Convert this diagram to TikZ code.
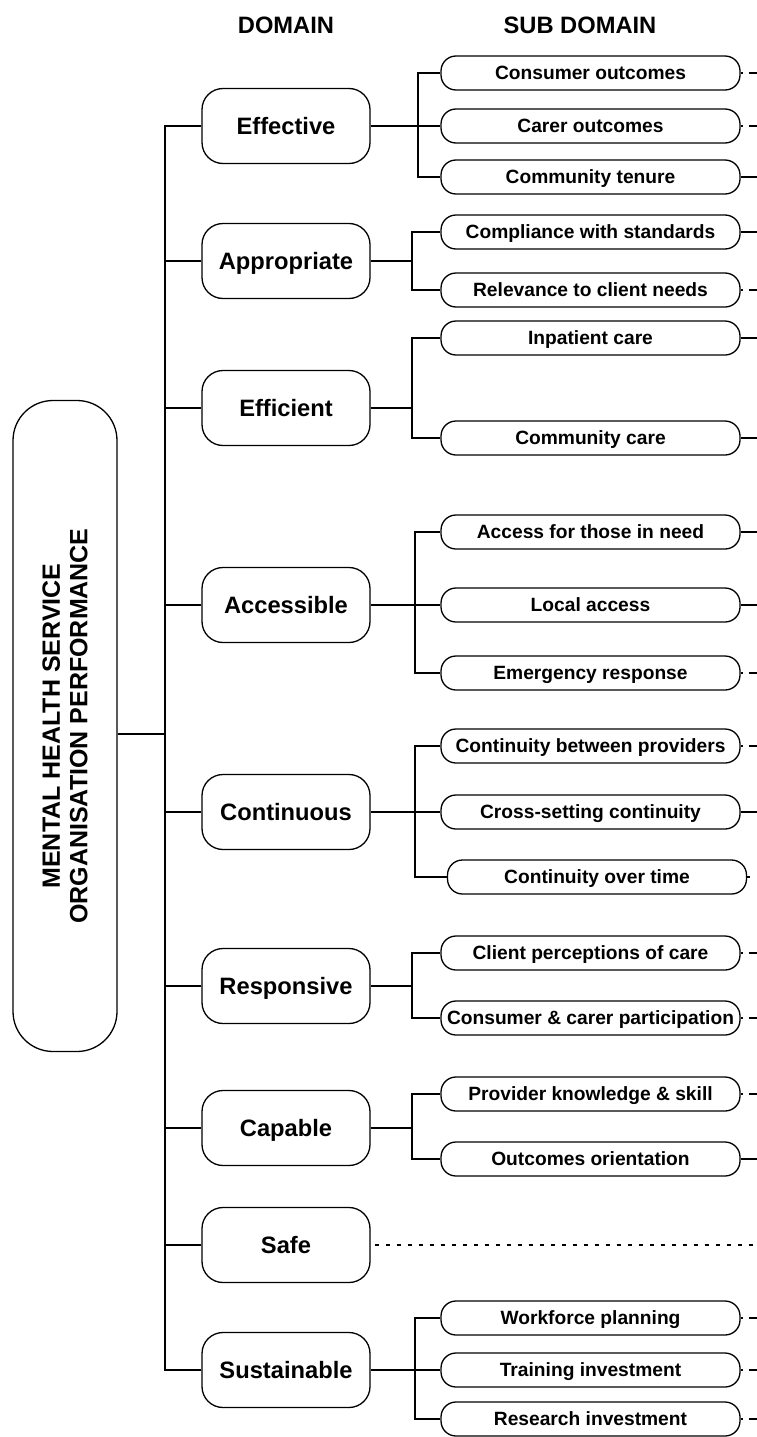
\documentclass[tikz,border=0pt]{standalone}
\usepackage{fontspec}
\setmainfont{Liberation Sans}
\begin{document}
\begin{tikzpicture}[x=1pt,y=-1pt,
  ln/.style={line width=1.3pt},
  dom/.style={draw, line width=1.3pt, rounded corners=21pt, minimum width=168pt, minimum height=75pt, inner sep=0pt, text height=17pt, text depth=0pt, font=\fontsize{23.7}{26}\selectfont\bfseries},
  sub/.style={draw, line width=1.3pt, rounded corners=15pt, minimum width=299pt, minimum height=34pt, inner sep=0pt, text height=13.8pt, text depth=0pt, font=\fontsize{19.2}{22}\selectfont\bfseries},
  hdr/.style={inner sep=0pt, font=\fontsize{23.7}{26}\selectfont\bfseries},
  dashstub/.style={line width=1.3pt, dash pattern=on 2pt off 6pt on 10pt},
  solidstub/.style={line width=1.3pt},
]
\useasboundingbox (0,0) rectangle (756,1437);
\coordinate (rx) at (757,0);
\coordinate (tx) at (165,0);

% headers
\node[hdr] (hd) at (286,25) {DOMAIN};
\node[hdr] (hs) at (580,25) {SUB DOMAIN};

% root
\node[draw, line width=1.3pt, rounded corners=40pt, minimum width=104pt, minimum height=651pt, inner sep=0pt] (root) at (65,726) {};
\node[rotate=90, align=center, inner sep=0pt, font=\fontsize{25}{27.5}\selectfont\bfseries] (roottxt) at (root.center) {MENTAL HEALTH SERVICE\\ORGANISATION PERFORMANCE};

% domains
\node[dom] (eff) at (286,126) {Effective};
\node[dom] (app) at (286,261) {Appropriate};
\node[dom] (effi) at (286,408) {Efficient};
\node[dom] (acc) at (286,605) {Accessible};
\node[dom] (con) at (286,812) {Continuous};
\node[dom] (res) at (286,986) {Responsive};
\node[dom] (cap) at (286,1128) {Capable};
\node[dom] (saf) at (286,1245) {Safe};
\node[dom] (sus) at (286,1370) {Sustainable};

% sub domains
\node[sub] (s11) at (590.5,73) {Consumer outcomes};
\node[sub] (s12) at (590.5,126) {Carer outcomes};
\node[sub] (s13) at (590.5,177) {Community tenure};
\node[sub] (s21) at (590.5,232) {Compliance with standards};
\node[sub] (s22) at (590.5,290) {Relevance to client needs};
\node[sub] (s31) at (590.5,338) {Inpatient care};
\node[sub] (s32) at (590.5,438) {Community care};
\node[sub] (s41) at (590.5,532) {Access for those in need};
\node[sub] (s42) at (590.5,605) {Local access};
\node[sub] (s43) at (590.5,673) {Emergency response};
\node[sub] (s51) at (590.5,746) {Continuity between providers};
\node[sub] (s52) at (590.5,812) {Cross-setting continuity};
\node[sub] (s53) at (597,877) {Continuity over time};
\node[sub] (s61) at (590.5,953) {Client perceptions of care};
\node[sub] (s62) at (590.5,1018) {Consumer \& carer participation};
\node[sub] (s71) at (590.5,1094) {Provider knowledge \& skill};
\node[sub] (s72) at (590.5,1159) {Outcomes orientation};
\node[sub] (s81) at (590.5,1318) {Workforce planning};
\node[sub] (s82) at (590.5,1370) {Training investment};
\node[sub] (s83) at (590.5,1419) {Research investment};

% root to trunk
\draw[ln] ([yshift=-8pt]root.east) -- (tx |- 0,734);
\draw[ln] (eff.west) -| (tx |- sus.west) -- (sus.west);
\foreach \d in {app,effi,acc,con,res,cap,saf}
  \draw[ln] (tx |- \d.west) -- (\d.west);

% brackets
\coordinate (b1) at (418,0);
\coordinate (b2) at (412,0);
\coordinate (b3) at (412,0);
\coordinate (b4) at (415,0);
\coordinate (b5) at (415,0);
\coordinate (b6) at (412,0);
\coordinate (b7) at (412,0);
\coordinate (b8) at (415,0);

\draw[ln] (eff.east) -- (b1 |- eff.east);
\draw[ln] (s11.west) -| (b1 |- s13.west) -- (s13.west);
\draw[ln] (b1 |- s12.west) -- (s12.west);

\draw[ln] (app.east) -- (b2 |- app.east);
\draw[ln] (s21.west) -| (b2 |- s22.west) -- (s22.west);

\draw[ln] (effi.east) -- (b3 |- effi.east);
\draw[ln] (s31.west) -| (b3 |- s32.west) -- (s32.west);

\draw[ln] (acc.east) -- (b4 |- acc.east);
\draw[line width=2.6pt] ([xshift=11pt]acc.east) -- (b4 |- acc.east);
\draw[ln] (s41.west) -| (b4 |- s43.west) -- (s43.west);
\draw[ln] (b4 |- s42.west) -- (s42.west);

\draw[ln] (con.east) -- (b5 |- con.east);
\draw[line width=2.6pt] ([xshift=11pt]con.east) -- (b5 |- con.east);
\draw[ln] (s51.west) -| (b5 |- s53.west) -- (s53.west);
\draw[ln] (b5 |- s52.west) -- (s52.west);

\draw[ln] (res.east) -- (b6 |- res.east);
\draw[ln] (s61.west) -| (b6 |- s62.west) -- (s62.west);

\draw[ln] (cap.east) -- (b7 |- cap.east);
\draw[ln] (s71.west) -| (b7 |- s72.west) -- (s72.west);

\draw[ln] (sus.east) -- (b8 |- sus.east);
\draw[line width=2.6pt] ([xshift=11pt]sus.east) -- (b8 |- sus.east);
\draw[ln] (s81.west) -| (b8 |- s83.west) -- (s83.west);
\draw[ln] (b8 |- s82.west) -- (s82.west);

% right stubs
\foreach \s in {s13,s21,s31,s32,s41,s42,s52,s72}
  \draw[solidstub] (\s.east) -- (rx |- \s.east);
\foreach \s in {s11,s12,s22,s43,s51,s61,s62,s71,s81,s82,s83}
  \draw[dashstub] (\s.east) -- (rx |- \s.east);
\draw[ln] (s53.east) -- ++(2.5,0);

% Safe dotted line
\draw[line width=2pt, dash pattern=on 4pt off 7pt] ([xshift=4pt]saf.east) -- (rx |- saf.east);
\end{tikzpicture}
\end{document}
